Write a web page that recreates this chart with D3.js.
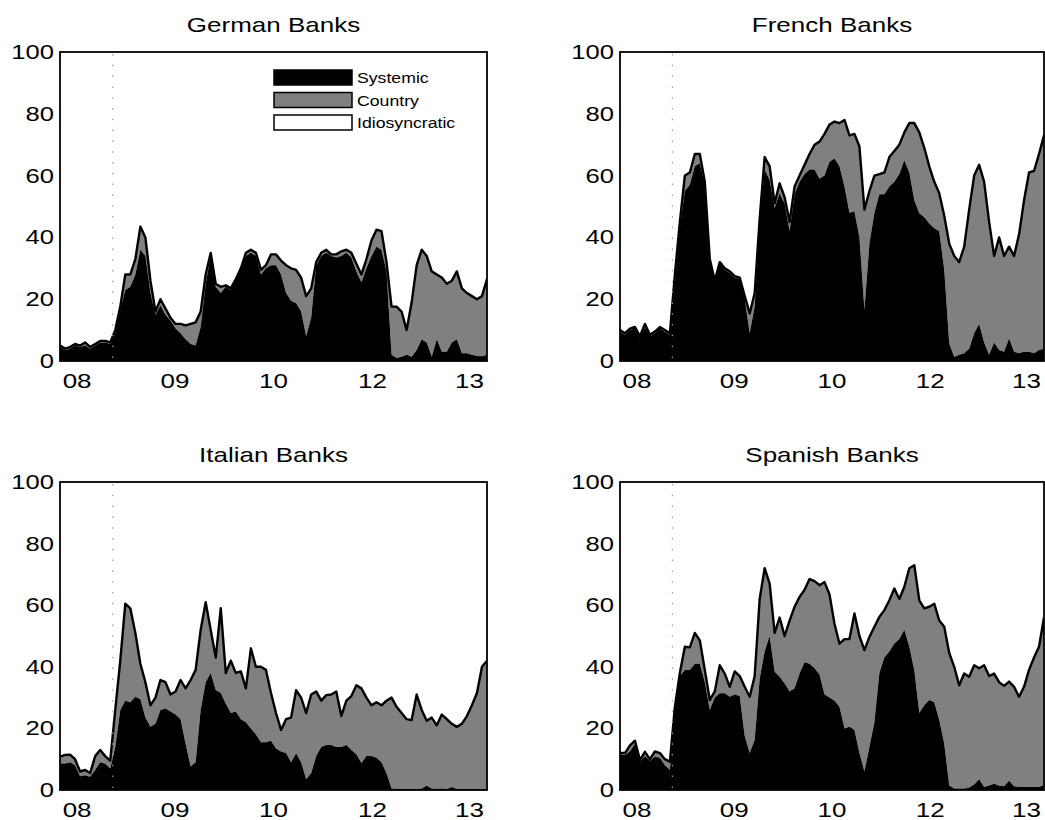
<!DOCTYPE html>
<html>
<head>
<meta charset="utf-8">
<script src="https://cdn.jsdelivr.net/npm/d3@7"></script>
<style>
  body { margin: 0; background: #fff; }
  text { font-family: "Liberation Sans", Arial, Helvetica, sans-serif; fill: #000; }
</style>
</head>
<body>
<svg id="chart" width="1045" height="820"></svg>
<script>
// ---- axis tick positions (observation index) and labels ----
const xTickPos = [3.4, 22.9, 42.5, 62.2, 81.5];
const xTickLabels = ["08", "09", "10", "12", "13"];
const yTicks = [0, 20, 40, 60, 80, 100];
const eventIndex = 10.5;
const seriesNames = ["Systemic", "Country", "Idiosyncratic"];
const panelTitles = ["German Banks", "French Banks", "Italian Banks", "Spanish Banks"];

// ---- variance shares (%), one value per observation ----
const germanSystemic = [4.5,3.5,4,5,4.5,5,4,5,6,6,
  5.5,9,16.5,23,24,28,36,34,22,15,
  18,15,13,10.5,9,7,5.5,5,11,25,
  34,24,22,24,23,26.5,30,34,35,34,
  28,30,31,31,28,22,19.5,18.7,16,8,
  14,31,34,35,34,33.5,34,35,33.5,29,
  25.5,30,34,37,36,29,2,1,1.4,2,
  1.4,3.6,7,6,1.4,7,3,3,6,7,
  2.5,2.5,2,1.6,1.5,2];
const germanCountry = [0.5,0.5,0.5,0.5,0.5,1,0.5,0.5,0.5,0.5,
  0.5,1,1.1,5,4,5,7.5,6,4,1,
  2,2,1,1.5,3,4.5,6.5,7.5,5,3,
  1,1,2,0.5,0.5,0,0,1,1,1,
  1.5,1,3.5,3.5,4.5,9,10.5,10.8,11,13,
  9.5,1,1,1,0.5,1,1.5,1,1.5,2.5,
  2.5,3,5,5.5,6,3,15.6,16.6,14.6,8,
  17.6,27.4,29,28,27.6,21,24,22,20,22,
  21,19.5,19,18.4,19.5,24.5];

const frenchSystemic = [9.5,8.5,10,10.5,7.5,11,8,9,10.5,9.5,
  8.5,25,43,55,57,63,64,57,32,25.5,
  31.5,29.5,28.5,27,26.5,20,9,17.6,45,62,
  58.6,49.5,54.3,51,42,54,58,60.5,62,62,
  59,60,64.5,65.5,63,56.5,48,48.4,40,16.5,
  38,48,54,54,56.5,58,60.5,65,61,52,
  47.8,46.5,44.5,43,42,29.5,5.7,1.3,2,2.5,
  4,9,12,6,2,6,3.6,3,7.3,3,
  2.5,3,3,2.5,3.6,4];
const frenchCountry = [0.5,0.5,0.5,0.5,0.5,1,0.5,0.5,0.5,0.5,
  0.5,3,2,5,4,4,3,1,1,0.5,
  0.5,0.5,0.5,0.5,0.5,1,6.4,4.4,1,4,
  4.4,1.5,3.2,2,3,2.5,2,3,5,8,
  12,13.5,12,12,14,21.5,25,25.1,29.4,32.5,
  17,12,6.5,7,9.5,10,9.5,9,16,25,
  26.2,22.5,18.5,15,12.3,17.5,32.3,32.7,30,34.5,
  45,51,51.5,52,43,28,36.4,31,29.7,31,
  38.5,49,58,59,63.4,69];

const italianSystemic = [8.6,8.6,9,8,4.5,4.8,4.3,6.5,9,8.5,
  7,14,26,29,28.5,30.3,29.5,23.5,20.5,21.5,
  26,26.5,25.5,24.5,23,15,7.6,9,26,35,
  38,32.5,31.5,28,25,25.5,23,22,20,18,
  15.5,15.5,16,13.5,12.5,12,9,11.9,9,3.5,
  5.4,11,14,14.6,14.6,14,14,14.6,13,11.6,
  8.8,11,11,10.5,9,5.4,0.5,0.3,0.3,0.3,
  0.3,0.3,0.5,1.4,0.5,0.3,0.5,0.3,1,0.3,
  0.3,0.3,0.3,0.3,0.3,0.3];
const italianCountry = [2.2,2.8,2.5,2,1.5,1.7,1.2,4.5,4,2.5,
  2.5,12,16,31.5,30.5,20.7,11.5,11.5,7,8.5,
  9.7,8.5,5.5,7.5,12.7,18,28.1,30,26,26,
  14,10.5,27.5,10,17,12.5,15.5,11,26,22,
  24.5,23.5,15.5,11.5,7,11,14.5,20.5,21,21.5,
  25.6,21,15,16.2,16.4,18,10,14.4,17.5,22.4,
  24.2,19,16.5,18,18.5,23.6,29.5,26.7,24.7,22.7,
  22.4,30.7,25.5,21.1,23,20.7,24,22.7,20.5,20.2,
  21.2,23.7,27.2,31.2,39.7,41.7];

const spanishSystemic = [11.4,11.4,12.5,15,9.2,11,9.5,10.8,10.5,8,
  6.5,26,37,39,39,41,41,35,26,30,
  31.4,31.4,30.3,31,30.5,17.5,12,16.2,36,45,
  50,38.4,36.8,34.6,32,33,37.8,41.5,41,39.5,
  37.5,31,30,29,27,20,20.5,19.5,12,6,
  14,22,38,43,45,47.6,49,52,46.5,38.9,
  25,27.5,29.2,28.5,22.7,15,1.5,0.5,0.5,0.5,
  0.8,1.8,3.5,1,1.5,2,1.4,1.2,3,1.2,
  1,1,1,1,1,1.6];
const spanishCountry = [0.6,0.6,2,1,0.5,1.4,0.5,1.7,1.5,2,
  2.7,1,1,7.5,7.3,10,7.6,4,3.2,2,
  9.1,6.4,3.2,7.5,6.5,16,18.3,20.8,26,27,
  17,12.6,19.2,15.4,23,26.5,24.9,23.5,27.5,28.3,
  29,36.5,33.5,25,20.5,29,28.5,37.8,38,39.4,
  35.7,31,18.2,15.4,16.6,17.8,13,14,25.5,34.1,
  36.6,31.5,30.3,32,32.3,38,43,39.5,33.5,37.3,
  36,38.7,36,39.5,35.5,35.8,33.6,32.6,32.2,32.3,
  29.3,32.5,38,42,45.5,54.4];

// ---- layout ----
const panels = [
  { title: panelTitles[0], systemic: germanSystemic,  country: germanCountry,  left: 60,  right: 487,  top: 52,  bottom: 361, legend: true },
  { title: panelTitles[1], systemic: frenchSystemic,  country: frenchCountry,  left: 620, right: 1044, top: 52,  bottom: 361 },
  { title: panelTitles[2], systemic: italianSystemic, country: italianCountry, left: 60,  right: 487,  top: 482, bottom: 790 },
  { title: panelTitles[3], systemic: spanishSystemic, country: spanishCountry, left: 620, right: 1044, top: 482, bottom: 790 }
];

const colors = { Systemic: "#000000", Country: "#808080", Idiosyncratic: "#ffffff" };
const svg = d3.select("#chart");

// wide sans-serif lettering: horizontally stretched text
function wideText(g, x, y, str, size, sx, anchor, baseline) {
  return g.append("text")
    .attr("transform", `translate(${x},${y}) scale(${sx},1)`)
    .attr("text-anchor", anchor)
    .attr("dominant-baseline", baseline || "alphabetic")
    .style("font-size", size + "px")
    .text(str);
}

panels.forEach((p, k) => {
  const g = svg.append("g");
  const n = p.systemic.length;

  const x = d3.scaleLinear().domain([0, n - 1]).range([p.left, p.right]);
  const y = d3.scaleLinear().domain([0, 100]).range([p.bottom, p.top]);

  const rows = p.systemic.map((s, i) => ({ i, Systemic: s, Country: p.country[i] }));
  const stacked = d3.stack().keys(["Systemic", "Country"])(rows);

  const clipId = "clip" + k;
  g.append("clipPath").attr("id", clipId)
    .append("rect")
    .attr("x", p.left).attr("y", p.top)
    .attr("width", p.right - p.left).attr("height", p.bottom - p.top);

  const plot = g.append("g").attr("clip-path", `url(#${clipId})`);

  const area = d3.area()
    .x(d => x(d.data.i))
    .y0(d => y(d[0]))
    .y1(d => y(d[1]));

  // country share first so the systemic layer sits cleanly on the baseline
  plot.selectAll("path.layer")
    .data(stacked.slice().reverse())
    .join("path")
    .attr("class", "layer")
    .attr("d", area)
    .attr("fill", d => colors[d.key])
    .attr("stroke", "none");

  // outline of systemic + country
  const topLine = d3.line()
    .x(d => x(d.data.i))
    .y(d => y(d[1]));
  plot.append("path")
    .datum(stacked[1])
    .attr("d", topLine)
    .attr("fill", "none")
    .attr("stroke", "#000")
    .attr("stroke-width", 2.4)
    .attr("stroke-linejoin", "round");

  // event marker
  plot.append("line")
    .attr("x1", x(eventIndex)).attr("x2", x(eventIndex))
    .attr("y1", p.top + 2).attr("y2", p.bottom)
    .attr("stroke", "#9a9a9a")
    .attr("stroke-width", 1.2)
    .attr("stroke-dasharray", "1.5,9.3");

  // frame
  g.append("rect")
    .attr("x", p.left).attr("y", p.top)
    .attr("width", p.right - p.left).attr("height", p.bottom - p.top)
    .attr("fill", "none").attr("stroke", "#000").attr("stroke-width", 1.8);

  // y tick labels
  yTicks.forEach(t => wideText(g, p.left - 6, y(t), String(t), 20, 1.28, "end", "central"));

  // x tick labels
  xTickPos.forEach((pos, j) => wideText(g, x(pos), p.bottom + 27, xTickLabels[j], 20, 1.3, "middle"));

  // title
  wideText(g, (p.left + p.right) / 2, p.top - 20.5, p.title, 20, 1.3, "middle");

  // legend
  if (p.legend) {
    const lx = 274, ly = 70, lw = 78, lh = 15, step = 22.5;
    seriesNames.forEach((name, j) => {
      g.append("rect")
        .attr("x", lx).attr("y", ly + j * step)
        .attr("width", lw).attr("height", lh)
        .attr("fill", colors[name])
        .attr("stroke", "#000").attr("stroke-width", 1.5);
      wideText(g, lx + lw + 5, ly + j * step + lh / 2 + 0.5, name, 14.5, 1.22, "start", "central");
    });
  }
});
</script>
</body>
</html>
